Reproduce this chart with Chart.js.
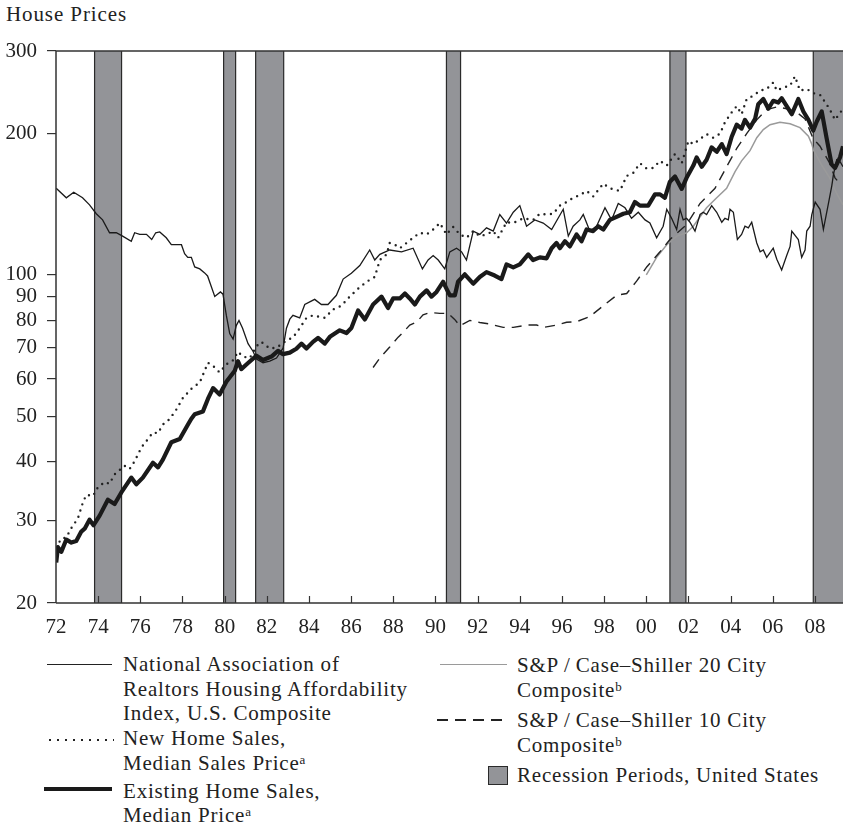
<!DOCTYPE html>
<html>
<head>
<meta charset="utf-8">
<title>House Prices</title>
<script src="https://cdn.jsdelivr.net/npm/chart.js@4.4.1/dist/chart.umd.min.js"></script>
<style>
  body { margin: 0; background: #fff; }
  #page { position: relative; width: 843px; height: 835px; overflow: hidden; font-family: "Liberation Serif", serif; color: #222; }
  #chartBox { position: absolute; left: 0; top: 0; width: 843px; height: 650px; }
  .title { position: absolute; left: 6px; top: 2px; font-size: 21px; line-height: 25px; letter-spacing: 0.9px; }
  .leg { position: absolute; font-size: 21px; line-height: 24.7px; letter-spacing: 0.8px; white-space: nowrap; }
  .sup { font-size: 13px; position: relative; top: -6px; letter-spacing: 0; }
  .sw { position: absolute; }
</style>
</head>
<body>
<div id="page">
  <div class="title">House Prices</div>
  <div id="chartBox"><canvas id="chart"></canvas></div>

  <!-- legend, left column -->
  <div class="sw" style="left:47px; top:664px; width:65px; border-top:1.3px solid #222;"></div>
  <div class="sw" style="left:46px; top:738px; width:68px; height:4px; background:radial-gradient(circle, #222 1.1px, transparent 1.5px) 0 0 / 8px 4px repeat-x;"></div>
  <div class="sw" style="left:44px; top:787px; width:68px; height:4px; background:#1a1a1a;"></div>
  <div class="leg" style="left:123px; top:652px;">
    National Association of<br>
    Realtors Housing Affordability<br>
    Index, U.S. Composite<br>
    New Home Sales,<br>
    Median Sales Price<span class="sup">a</span><br>
    Existing Home Sales,<br>
    Median Price<span class="sup">a</span>
  </div>

  <!-- legend, right column -->
  <div class="sw" style="left:440px; top:664px; width:67px; border-top:1.4px solid #9a9a9a;"></div>
  <div class="sw" style="left:437px; top:719px; width:66px; height:1.5px; background:repeating-linear-gradient(to right, #222 0 11px, transparent 11px 18px);"></div>
  <div class="sw" style="left:488px; top:766px; width:20px; height:19px; box-sizing:border-box; background:#939498; border:1.5px solid #2a2a2a;"></div>
  <div class="leg" style="left:517px; top:653px;">
    S&amp;P&#8201;/&#8201;Case–Shiller 20 City<br>
    Composite<span class="sup">b</span>
  </div>
  <div class="leg" style="left:517px; top:708px;">
    S&amp;P&#8201;/&#8201;Case–Shiller 10 City<br>
    Composite<span class="sup">b</span>
  </div>
  <div class="leg" style="left:517px; top:763px;">
    Recession Periods, United States
  </div>
</div>

<script>
// ---- data (decimal years, index / price levels) ----
const affordYears = [
  1972.01,1972.49,1972.84,1973.26,1973.59,1973.91,1974.21,1974.54,1974.86,1975.16,
  1975.57,1975.73,1975.97,1976.29,1976.54,1976.73,1976.92,1977.23,1977.47,1977.95,
  1978.10,1978.25,1978.42,1978.58,1978.82,1979.05,1979.19,1979.53,1979.80,1979.92,
  1980.08,1980.24,1980.40,1980.55,1980.68,1980.85,1981.11,1981.35,1981.51,1981.82,
  1982.14,1982.46,1982.77,1982.93,1983.09,1983.24,1983.56,1983.80,1984.27,1984.59,
  1984.90,1985.30,1985.62,1986.01,1986.41,1986.88,1987.12,1987.36,1987.83,1988.39,
  1988.94,1989.38,1989.65,1989.89,1990.13,1990.44,1990.68,1991.00,1991.24,1991.47,
  1991.79,1992.10,1992.42,1992.74,1993.05,1993.37,1993.69,1994.00,1994.32,1994.71,
  1995.11,1995.51,1996.06,1996.30,1996.53,1996.85,1997.01,1997.32,1997.64,1998.04,
  1998.35,1998.67,1998.99,1999.30,1999.62,1999.94,2000.17,2000.49,2000.80,2000.97,
  2001.20,2001.44,2001.60,2001.75,2001.91,2002.07,2002.31,2002.55,2002.70,2002.86,
  2003.10,2003.34,2003.58,2003.73,2003.89,2003.97,2004.13,2004.32,2004.52,2004.68,
  2004.84,2005.00,2005.24,2005.40,2005.55,2005.71,2006.02,2006.19,2006.42,2006.66,
  2006.82,2006.90,2007.21,2007.37,2007.53,2007.61,2007.77,2007.85,2008.01,2008.24,
  2008.40,2008.64,2008.80,2008.87,2009.03,2009.20,2009.33
];
const affordValues = [
  153,146,150,146,141,135,131,123,123,121,
  118,123,122,122,119,123,123.5,120,116,116,
  111,109,109,104,103,101,99.5,90,92,91,
  82,75,73,78,80,77,71.4,68.7,66.2,65,
  65.5,66.5,69.8,77,80.5,82,81,86.5,88.7,86.5,
  86.5,90.5,98,100.8,104.7,113,107.6,110.6,113,112,
  114,103,107.6,110,107.6,103,112,114,112,107.6,
  124,122,126,124,134.5,129,136,140.5,127,131,
  129,125,138,121,127,131,134.5,124,127,139,
  131,142,139,132,136,131,129,120,127,138,
  132,125,138,131,132,129.5,124,134.5,136,134.5,
  140.5,136,129.5,132,131,138,136,119,122,127,
  126,129.5,117,112,113,109,114,108,102.5,110,
  115,124,119,109,113,124,127,134.5,143,138,
  125,142,155,163,176,174,170
];

const newHomeYears = [
  1972.01,1972.25,1972.49,1972.73,1973.04,1973.28,1973.44,1973.75,1973.99,1974.31,
  1974.54,1974.78,1975.25,1975.49,1975.73,1976.05,1976.36,1976.60,1976.84,1977.07,
  1977.39,1977.71,1978.02,1978.42,1978.82,1979.21,1979.45,1979.76,1980.08,1980.40,
  1980.63,1980.87,1981.19,1981.51,1981.74,1982.14,1982.46,1982.93,1983.24,1983.56,
  1983.88,1984.19,1984.75,1985.14,1985.54,1985.93,1986.33,1986.73,1987.12,1987.36,
  1987.68,1987.83,1988.07,1988.31,1988.63,1988.94,1989.26,1989.58,1989.89,1990.21,
  1990.52,1990.84,1991.16,1991.47,1991.79,1992.10,1992.42,1992.74,1992.97,1993.37,
  1993.69,1994.16,1994.63,1994.95,1995.27,1995.58,1995.90,1996.22,1996.53,1996.85,
  1997.17,1997.48,1997.96,1998.27,1998.75,1999.07,1999.38,1999.70,2000.02,2000.33,
  2000.65,2000.97,2001.36,2001.68,2002.00,2002.23,2002.63,2002.86,2003.18,2003.50,
  2003.73,2004.05,2004.29,2004.52,2004.76,2005.08,2005.40,2005.71,2006.02,2006.19,
  2006.50,2006.82,2007.05,2007.29,2007.61,2007.92,2008.24,2008.55,2008.71,2008.95,
  2009.27
];
const newHomeValues = [
  26.3,27.4,27.6,28.9,30.3,32.8,34.0,33.8,35.3,36.2,
  35.9,37.6,39.2,38.6,40.1,42.9,44.7,46.2,46.0,48.0,
  49.3,51.7,54.7,57.2,59.0,65.0,64.0,62.0,64.5,65.8,
  68.6,67.0,66.5,70.5,72.0,69.7,70.0,72.5,73.6,77.0,
  81.0,82.0,81.0,84.4,86.0,89.9,93.5,96.7,99,107.6,
  110.6,117,116,114,117,120,123,122,125,129,
  122,126.5,122,120,124,121,122,124,120,129.5,
  129,132,131,135,134.5,135,140.5,143,146,148,
  151,147,156.5,153,151,162.5,165,173,168.5,169,
  175,171,181,173,193,190,196,199.5,196,200,
  211.5,222,229,220,237,241,247,249,257,247,
  251,253,265,247,249,244,242,231,225,214,
  224
];

const existingYears = [
  1972.01,1972.09,1972.25,1972.49,1972.73,1972.96,1973.20,1973.36,1973.59,1973.78,
  1974.07,1974.46,1974.78,1975.10,1975.57,1975.81,1976.12,1976.60,1976.84,1977.07,
  1977.47,1977.87,1978.26,1978.42,1978.58,1978.97,1979.21,1979.45,1979.76,1980.08,
  1980.48,1980.63,1980.79,1981.11,1981.51,1981.82,1982.22,1982.53,1982.77,1983.09,
  1983.40,1983.64,1983.88,1984.19,1984.43,1984.75,1984.99,1985.46,1985.78,1986.01,
  1986.33,1986.65,1987.04,1987.44,1987.75,1987.99,1988.31,1988.55,1988.78,1989.02,
  1989.26,1989.58,1989.81,1990.05,1990.36,1990.52,1990.68,1990.92,1991.07,1991.39,
  1991.79,1992.10,1992.42,1992.81,1993.13,1993.37,1993.69,1994.00,1994.40,1994.63,
  1994.95,1995.27,1995.51,1995.74,1995.90,1996.14,1996.37,1996.69,1996.93,1997.17,
  1997.48,1997.72,1997.96,1998.27,1998.59,1998.91,1999.22,1999.46,1999.70,2000.09,
  2000.41,2000.65,2000.88,2001.12,2001.36,2001.68,2001.91,2002.23,2002.39,2002.63,
  2002.86,2003.10,2003.34,2003.58,2003.81,2004.05,2004.29,2004.52,2004.68,2004.92,
  2005.16,2005.31,2005.55,2005.79,2006.02,2006.26,2006.42,2006.66,2006.90,2007.21,
  2007.45,2007.69,2007.92,2008.08,2008.32,2008.55,2008.79,2008.95,2009.19,2009.33
];
const existingValues = [
  24.4,26.3,25.7,27.3,26.9,27.1,28.4,28.8,30.1,29.3,
  30.7,33.2,32.5,34.4,37.0,35.8,37.0,39.8,38.9,40.4,
  44.0,44.7,48.0,49.4,50.5,51.2,54.5,57.4,55.6,59.2,
  62.5,65.5,63.0,64.9,67.3,65.9,67.0,68.9,67.8,68.3,
  69.6,71.4,69.7,72.0,73.4,71.4,73.8,76.2,75.2,77.1,
  84.0,80.4,86.5,89.9,85.0,89.1,89.1,91.3,89.1,86.5,
  89.9,92.7,89.9,92.0,96.7,93.5,90.5,90.5,96.7,100.3,
  95.8,99.0,101.4,99.7,98.0,105.3,103.8,105.3,110.6,107.6,
  109.0,108.5,114.0,117,114,118,115,122,118,125,
  124,127,125,131,133,135,136,143,140.5,140.5,
  148.5,148.5,146,158,162,152.5,161,171,178,170,
  176,187,183,190,181,197,209,205,214,206,
  215,231,237,226,235,233,238,229,220,237,
  223,214,203,212,223,196,172,169,178,188
];

const city20Years = [
  2000.00,2000.17,2000.49,2000.97,2001.44,2001.91,2002.23,2002.55,2002.86,2003.34,
  2003.81,2004.21,2004.52,2004.92,2005.24,2005.55,2005.87,2006.34,2006.82,2007.29,
  2007.69,2007.85,2007.92,2008.30,2008.70,2009.00,2009.33
];
const city20Values = [
  100,103,109,116,121,123,127,133,139,146,
  153,166,175,184,196,204,209,211.5,210,206,
  197.5,190,185,172,161,150,141
];

const city10Years = [
  1987.04,1987.36,1987.83,1988.23,1988.46,1988.78,1989.10,1989.41,1989.73,1990.21,
  1990.60,1990.91,1991.16,1991.63,1992.10,1992.58,1993.21,1993.69,1994.32,1994.80,
  1995.11,1995.74,1996.22,1996.69,1997.32,1997.96,1998.59,1999.07,1999.54,2000.02,
  2000.65,2001.12,2001.91,2002.55,2003.26,2003.81,2004.29,2004.76,2005.24,2005.71,
  2006.19,2006.66,2007.14,2007.53,2007.92,2008.24,2008.67,2008.95,2009.27
];
const city10Values = [
  63.5,66.5,70.2,73.7,75.4,78.2,79.3,82.2,83.2,82.8,
  82.8,80.4,77.9,80.0,79.2,78.6,77.3,77.3,78.2,78.2,
  77.3,78.2,79.3,79.5,81.5,86,90.5,91.3,97,104,
  112,119,128,142,153,170,186,200,214,225,
  228,226,222,215,195,188,174,161,155
];

// US recessions (decimal years)
const recessionStarts = [1973.83, 1979.95, 1981.47, 1990.52, 2001.12, 2007.92];
const recessionEnds   = [1975.11, 1980.52, 1982.80, 1991.19, 2001.88, 2009.60];

const yTickValues = [20, 30, 40, 50, 60, 70, 80, 90, 100, 200, 300];
const xTickYears = [1972,1974,1976,1978,1980,1982,1984,1986,1988,1990,
                    1992,1994,1996,1998,2000,2002,2004,2006,2008];

const xMin = 1972, xMax = 2009.33;

function toPoints(xs, ys) {
  return xs.map((x, i) => ({ x: x, y: ys[i] }));
}

const recessionBars = {
  id: 'recessionBars',
  beforeDatasetsDraw(chart) {
    const { ctx, chartArea: a, scales: { x } } = chart;
    ctx.save();
    for (let i = 0; i < recessionStarts.length; i++) {
      const x0 = x.getPixelForValue(recessionStarts[i]);
      const x1 = Math.min(x.getPixelForValue(recessionEnds[i]), a.right + 2);
      ctx.fillStyle = '#939498';
      ctx.fillRect(x0, a.top, x1 - x0, a.bottom - a.top);
      ctx.strokeStyle = '#2a2a2a';
      ctx.lineWidth = 1.2;
      ctx.beginPath();
      ctx.moveTo(x0, a.top); ctx.lineTo(x0, a.bottom);
      if (recessionEnds[i] < xMax) { ctx.moveTo(x1, a.top); ctx.lineTo(x1, a.bottom); }
      ctx.stroke();
    }
    ctx.restore();
  }
};

// frame (left, top, bottom) plus the small inward ticks on the year axis
const frame = {
  id: 'frame',
  afterDatasetsDraw(chart) {
    const { ctx, chartArea: a, scales: { x } } = chart;
    ctx.save();
    ctx.strokeStyle = '#333';
    ctx.lineWidth = 1.5;
    ctx.beginPath();
    ctx.moveTo(a.left, a.bottom); ctx.lineTo(a.left, a.top); ctx.lineTo(a.right + 2, a.top);
    ctx.moveTo(a.left, a.bottom); ctx.lineTo(a.right + 2, a.bottom);
    ctx.stroke();
    ctx.lineWidth = 1.2;
    ctx.beginPath();
    xTickYears.forEach(v => {
      if (v <= xMin) return;
      const px = Math.round(x.getPixelForValue(v)) + 0.5;
      ctx.moveTo(px, a.bottom); ctx.lineTo(px, a.bottom - 7);
    });
    ctx.stroke();
    ctx.restore();
  }
};

const tickFont = { family: 'Liberation Serif', size: 21 };

new Chart(document.getElementById('chart'), {
  type: 'line',
  data: {
    datasets: [
      {
        label: 'Existing Home Sales, Median Price',
        data: toPoints(existingYears, existingValues),
        borderColor: '#1a1a1a', borderWidth: 4.2, borderJoinStyle: 'round'
      },
      {
        label: 'New Home Sales, Median Sales Price',
        data: toPoints(newHomeYears, newHomeValues),
        borderColor: '#222', borderWidth: 2.4, borderDash: [0, 6.5], borderCapStyle: 'round'
      },
      {
        label: 'National Association of Realtors Housing Affordability Index, U.S. Composite',
        data: toPoints(affordYears, affordValues),
        borderColor: '#1a1a1a', borderWidth: 1.3
      },
      {
        label: 'S&P/Case-Shiller 10 City Composite',
        data: toPoints(city10Years, city10Values),
        borderColor: '#222', borderWidth: 1.4, borderDash: [10, 7]
      },
      {
        label: 'S&P/Case-Shiller 20 City Composite',
        data: toPoints(city20Years, city20Values),
        borderColor: '#9a9a9a', borderWidth: 1.5
      }
    ]
  },
  options: {
    responsive: true,
    maintainAspectRatio: false,
    animation: false,
    devicePixelRatio: 1,
    layout: { padding: { top: 51, left: 0, right: 0, bottom: 0 } },
    elements: { point: { radius: 0 }, line: { tension: 0, fill: false } },
    plugins: { legend: { display: false }, tooltip: { enabled: false }, title: { display: false } },
    scales: {
      x: {
        type: 'linear',
        min: xMin,
        max: xMax,
        grid: { display: false, drawTicks: false },
        border: { display: false },
        afterBuildTicks: s => { s.ticks = xTickYears.map(v => ({ value: v })); },
        afterFit: s => { s.height = 47; },
        ticks: {
          autoSkip: false, maxRotation: 0, padding: 12,
          color: '#222', font: tickFont,
          callback: v => String(v % 100).padStart(2, '0')
        }
      },
      y: {
        type: 'logarithmic',
        min: 20,
        max: 300,
        grid: { drawOnChartArea: false, drawTicks: true, tickLength: 9, color: '#333', lineWidth: 1.2 },
        border: { display: false },
        afterBuildTicks: s => { s.ticks = yTickValues.map(v => ({ value: v })); },
        afterFit: s => { s.width = 56; },
        ticks: {
          padding: 10, color: '#222', font: tickFont,
          callback: v => String(v)
        }
      }
    }
  },
  plugins: [recessionBars, frame]
});
</script>
</body>
</html>
